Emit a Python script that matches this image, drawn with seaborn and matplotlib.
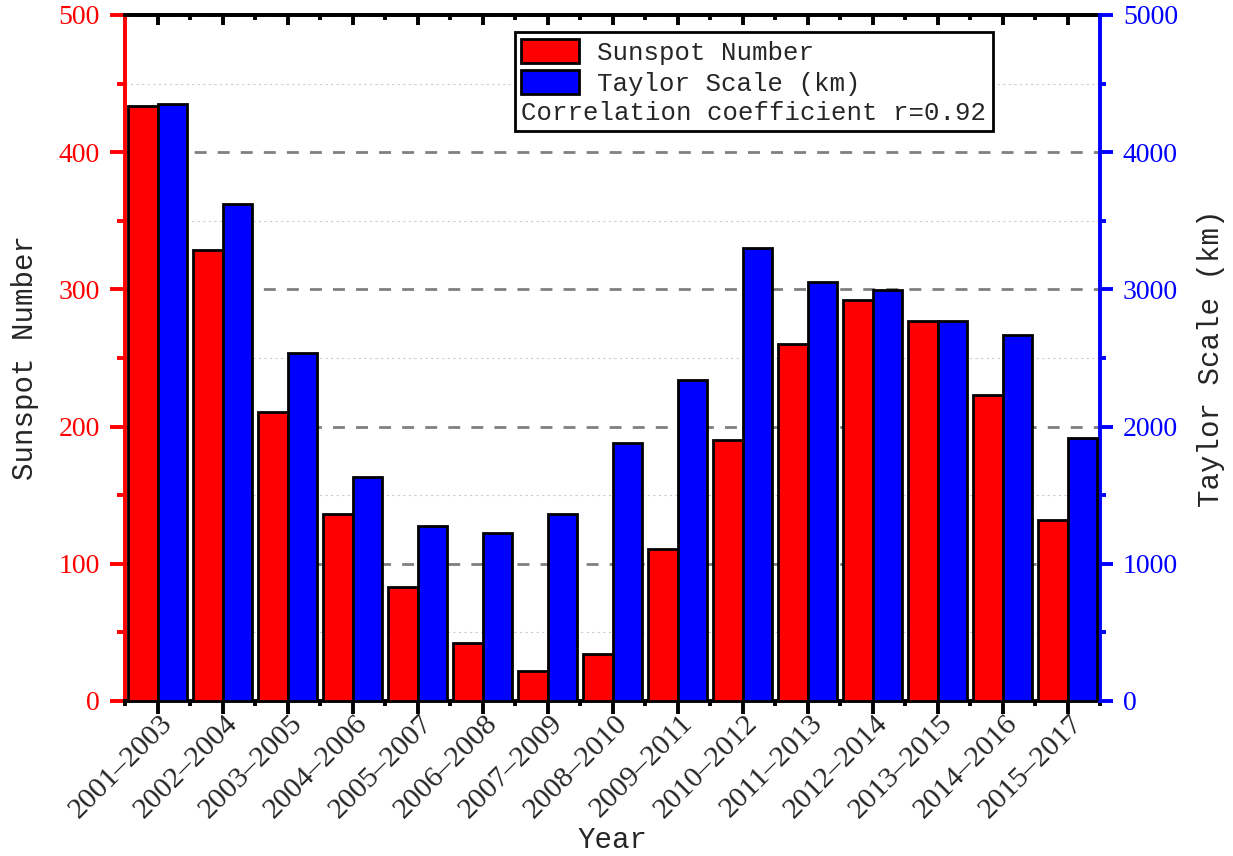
import matplotlib
matplotlib.use("Agg")
import matplotlib.pyplot as plt
import matplotlib.transforms as mtransforms
from matplotlib.patches import Patch
from matplotlib.ticker import FixedLocator, MultipleLocator
import seaborn as sns
import pandas as pd

periods = ["2001–2003", "2002–2004", "2003–2005", "2004–2006", "2005–2007",
           "2006–2008", "2007–2009", "2008–2010", "2009–2011", "2010–2012",
           "2011–2013", "2012–2014", "2013–2015", "2014–2016", "2015–2017"]
sunspot = [434, 329, 211, 136, 83, 42, 22, 34, 111, 190, 260, 292, 277, 223, 132]
taylor = [4351, 3622, 2536, 1633, 1275, 1224, 1363, 1880, 2340, 3302, 3054, 2996, 2770, 2668, 1917]
series = ["Sunspot Number", "Taylor Scale (km)"]
colors = ["#FF0000", "#0000FF"]
corr_text = "Correlation coefficient r=0.92"

sns.set_theme(style="white")
plt.rcParams["font.family"] = ["Liberation Serif", "DejaVu Serif"]

MONO = "Liberation Mono"
SERIF = "Liberation Serif"

df_sun = pd.DataFrame({"Period": periods, "Value": sunspot, "Series": series[0]})
df_tay = pd.DataFrame({"Period": periods, "Value": taylor, "Series": series[1]})
pal = dict(zip(series, colors))

fig = plt.figure(figsize=(12.33, 8.56), dpi=100)
ax = fig.add_axes([125 / 1233, 1 - 701 / 856, 975 / 1233, 686 / 856])
ax2 = ax.twinx()

sns.barplot(data=df_sun, x="Period", y="Value", hue="Series", hue_order=series,
            palette=pal, width=0.9, dodge=True, saturation=1, edgecolor="black",
            linewidth=2, legend=False, ax=ax, zorder=3)
sns.barplot(data=df_tay, x="Period", y="Value", hue="Series", hue_order=series,
            palette=pal, width=0.9, dodge=True, saturation=1, edgecolor="black",
            linewidth=2, legend=False, ax=ax2, zorder=3)

ax.set_xlim(-0.5, len(periods) - 0.5)
ax.set_ylim(0, 500)
ax2.set_ylim(0, 5000)

# grid
ax.set_axisbelow(True)
ax.yaxis.set_major_locator(MultipleLocator(100))
ax.yaxis.set_minor_locator(MultipleLocator(50))
ax.grid(axis="y", which="major", color="#808080", linestyle=(0, (4.3, 4.0)), linewidth=2)
ax.grid(axis="y", which="minor", color="#cccccc", linestyle=(0, (2, 3)), linewidth=0.8)
ax.grid(axis="x", visible=False)
ax2.grid(False)

# spines
for sp in ["top", "bottom"]:
    ax.spines[sp].set_color("black")
    ax.spines[sp].set_linewidth(2.8)
ax.spines["left"].set_color("#FF0000")
ax.spines["left"].set_linewidth(2.8)
ax.spines["right"].set_visible(False)
for sp in ["top", "bottom", "left"]:
    ax2.spines[sp].set_visible(False)
ax2.spines["right"].set_color("#0000FF")
ax2.spines["right"].set_linewidth(2.8)

# y ticks left
ax.tick_params(axis="y", which="major", direction="out", length=11, width=2.8,
               color="#FF0000", labelcolor="#FF0000", labelsize=20, pad=7, left=True)
ax.tick_params(axis="y", which="minor", direction="out", length=6, width=2.8,
               color="#FF0000", left=True)
for lab in ax.get_yticklabels():
    lab.set_fontfamily(SERIF)

# y ticks right
ax2.yaxis.set_major_locator(MultipleLocator(1000))
ax2.yaxis.set_minor_locator(MultipleLocator(500))
ax2.tick_params(axis="y", which="major", direction="out", length=9.5, width=2.8,
                color="#0000FF", labelcolor="#0000FF", labelsize=20, pad=7, right=True)
ax2.tick_params(axis="y", which="minor", direction="out", length=4.5, width=2.8,
                color="#0000FF", right=True)
for lab in ax2.get_yticklabels():
    lab.set_fontfamily(SERIF)

# x ticks bottom
ax.xaxis.set_minor_locator(FixedLocator([i - 0.5 for i in range(len(periods) + 1)]))
ax.tick_params(axis="x", which="major", direction="out", length=9, width=2.8,
               color="black", labelsize=21, bottom=True, pad=4)
ax.tick_params(axis="x", which="minor", direction="out", length=3.5, width=2.8,
               color="black", bottom=True)
ax.set_xticks(range(len(periods)))
ax.set_xticklabels(periods, rotation=45, ha="right", va="center",
                   rotation_mode="anchor", fontfamily=SERIF, fontsize=21.5)
shift = mtransforms.ScaledTranslation(11 / 100, 0, fig.dpi_scale_trans)
for lab in ax.get_xticklabels():
    lab.set_transform(lab.get_transform() + shift)

# x ticks top (inward)
sec = ax.secondary_xaxis("top")
sec.set_xticks(range(len(periods)))
sec.xaxis.set_minor_locator(FixedLocator([i - 0.5 for i in range(len(periods) + 1)]))
sec.tick_params(axis="x", which="major", direction="in", length=7, width=2.8,
                color="black", labeltop=False, top=True)
sec.tick_params(axis="x", which="minor", direction="in", length=3.5, width=2.8,
                color="black", top=True)
sec.spines["top"].set_linewidth(2.8)
sec.set_xticklabels([])

# labels
ax.set_xlabel("Year", fontfamily=MONO, fontsize=21, labelpad=2)
ax.set_ylabel("Sunspot Number", fontfamily=MONO, fontsize=21, labelpad=14)
ax2.set_ylabel("Taylor Scale (km)", fontfamily=MONO, fontsize=21, labelpad=14)

# legend
handles = [Patch(facecolor=c, edgecolor="black", linewidth=2) for c in colors]
leg = ax2.legend(handles, series, loc="upper left", bbox_to_anchor=(0.4, 0.975),
                 borderaxespad=0, frameon=True, fancybox=False, framealpha=1,
                 edgecolor="black", prop={"family": MONO, "size": 18.5},
                 handlelength=2.25, handleheight=1.1, handletextpad=0.7,
                 borderpad=0.25, labelspacing=0.2,
                 title=corr_text, title_fontproperties={"family": MONO, "size": 18.5})
leg.get_frame().set_linewidth(2)
leg._legend_box._children = [leg._legend_handle_box, leg._legend_title_box]
leg.set_alignment("left")

fig.savefig("out.png", dpi=100)
